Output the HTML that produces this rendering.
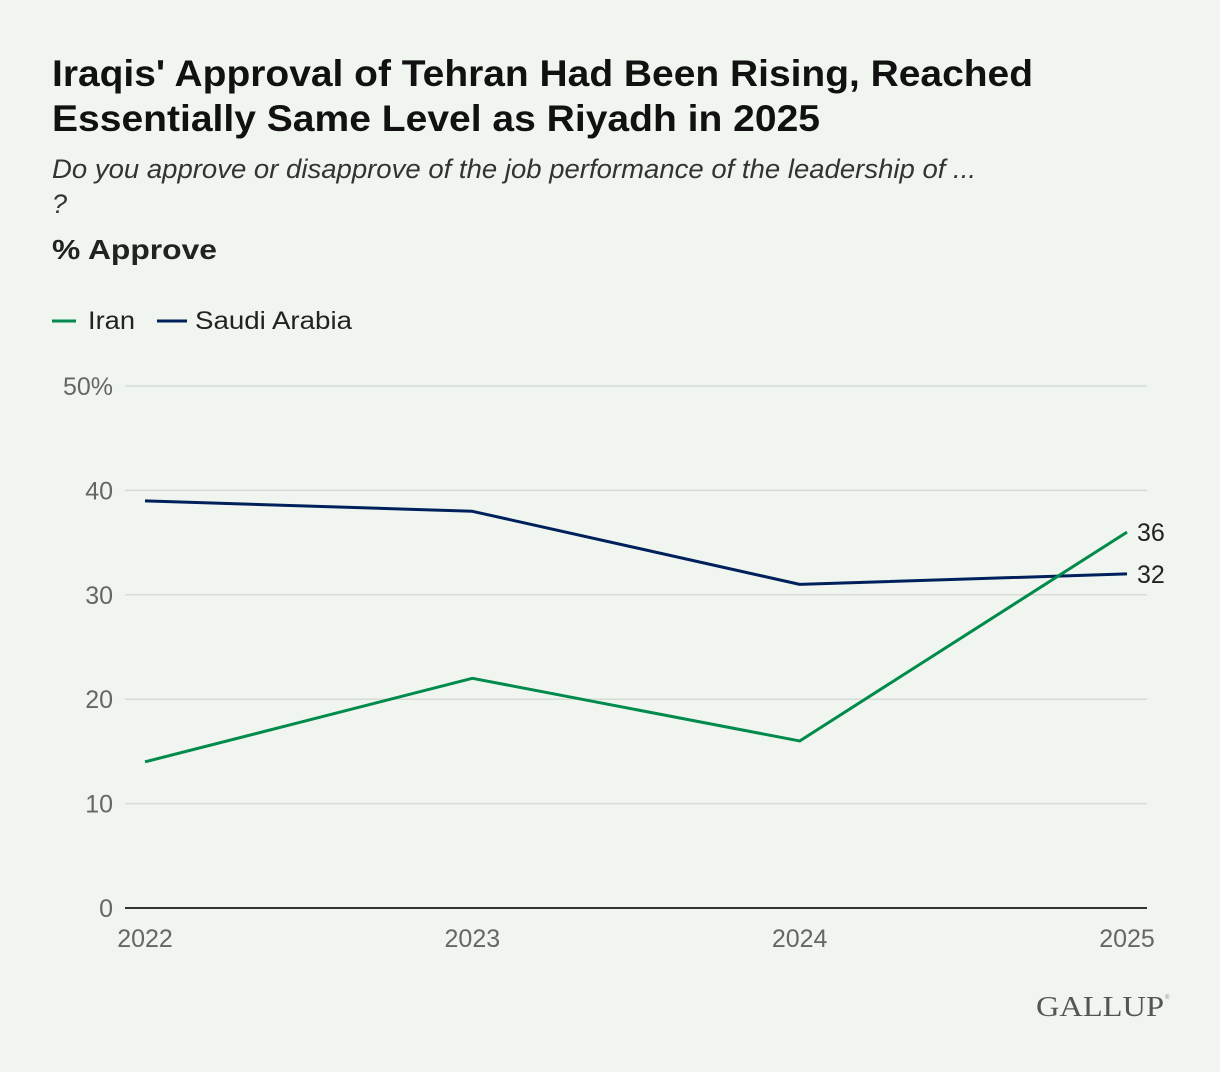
<!DOCTYPE html>
<html><head><meta charset="utf-8"><style>
body{margin:0;background:#f0f6ef;}
svg{display:block;font-family:"Liberation Sans",sans-serif;}
</style></head><body>
<svg width="1220" height="1072" viewBox="0 0 1220 1072">
<rect width="1220" height="1072" fill="#f0f6ef"/>
<text x="52" y="86" font-size="37" font-weight="bold" fill="#111" textLength="981" lengthAdjust="spacingAndGlyphs">Iraqis' Approval of Tehran Had Been Rising, Reached</text>
<text x="52" y="131" font-size="37" font-weight="bold" fill="#111" textLength="768" lengthAdjust="spacingAndGlyphs">Essentially Same Level as Riyadh in 2025</text>
<text x="52" y="178" font-size="27" font-style="italic" fill="#333" textLength="924" lengthAdjust="spacingAndGlyphs">Do you approve or disapprove of the job performance of the leadership of ...</text>
<text x="52" y="213" font-size="27" font-style="italic" fill="#333">?</text>
<text x="52" y="259" font-size="28" font-weight="bold" fill="#222" textLength="165" lengthAdjust="spacingAndGlyphs">% Approve</text>
<g>
<line x1="52" y1="321" x2="76" y2="321" stroke="#008a4b" stroke-width="3"/>
<text x="88" y="329" font-size="25" fill="#222" textLength="47" lengthAdjust="spacingAndGlyphs">Iran</text></g>
<g>
<line x1="157" y1="321" x2="187" y2="321" stroke="#00205b" stroke-width="3"/>
<text x="195" y="329" font-size="25" fill="#222" textLength="157" lengthAdjust="spacingAndGlyphs">Saudi Arabia</text></g>
<g id="plot"></g>
<text x="1036" y="1016" font-family="Liberation Serif,serif" font-size="28" fill="#555" textLength="128" lengthAdjust="spacingAndGlyphs">GALLUP</text>
<text x="1165" y="999" font-size="6" fill="#888">®</text>
</svg>
<script>
const years=["2022","2023","2024","2025"];
const iran=[14,22,16,36];
const saudi=[39,38,31,32];
const yTicks=[0,10,20,30,40,50];
const yTickLabels=["0","10","20","30","40","50%"];
const NS="http://www.w3.org/2000/svg";
const g=document.getElementById("plot");
const x=i=>145+i*(1127-145)/(years.length-1);
const y=v=>908-v*(908-386)/50;
function mk(t,a,txt){const e=document.createElementNS(NS,t);for(const k in a)e.setAttribute(k,a[k]);if(txt!=null)e.textContent=txt;g.appendChild(e);return e;}
yTicks.forEach((v,i)=>{
 if(v>0){const l=mk("line",{x1:125,x2:1147,y1:y(v),y2:y(v),stroke:"#d6dcd5","stroke-width":1.5});
 
 }
 const t=mk("text",{x:113,y:y(v)+9,"font-size":25,fill:"#666","text-anchor":"end"},yTickLabels[i]);
 
 
});
const ax=mk("line",{x1:125,x2:1147,y1:908,y2:908,stroke:"#333","stroke-width":2});


years.forEach((yr,i)=>{
 const t=mk("text",{x:x(i),y:947,"font-size":25,fill:"#666","text-anchor":"middle"},yr);
 
 
});
function series(vals,color,name){
 const p=mk("polyline",{points:vals.map((v,i)=>x(i)+","+y(v)).join(" "),fill:"none",stroke:color,"stroke-width":3,"stroke-linejoin":"round"});
 
 
 const last=vals.length-1;
 const t=mk("text",{x:x(last)+10,y:y(vals[last])+9,"font-size":25,fill:"#222"},vals[last]);
 
 
}
series(saudi,"#00205b","saudi-arabia");
series(iran,"#008a4b","iran");
</script>
</body></html>
